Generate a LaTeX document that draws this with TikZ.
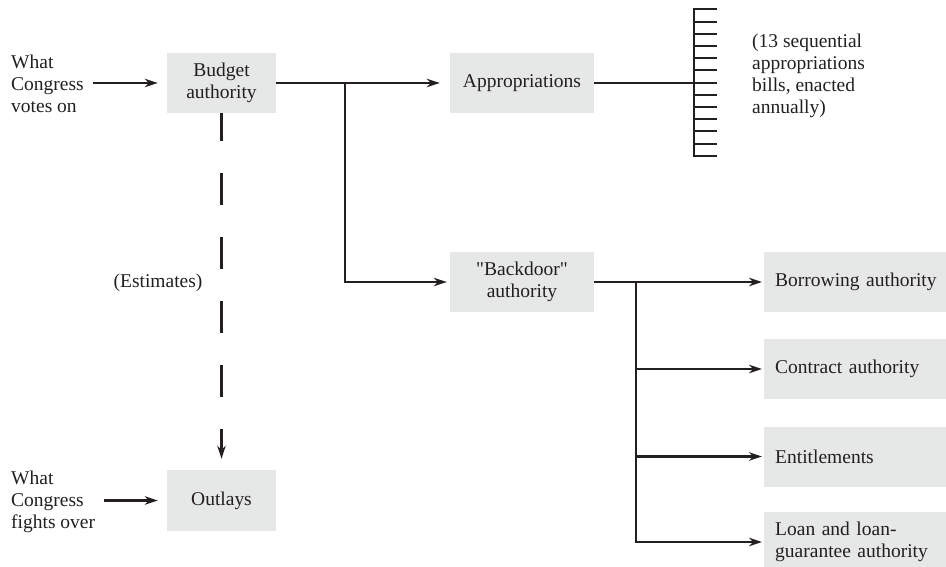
\documentclass[tikz,border=0pt]{standalone}
\usepackage{fontspec}
\setmainfont{Liberation Serif}[Ligatures=TeXOff]
\usetikzlibrary{arrows.meta}
\definecolor{boxfill}{RGB}{230,231,231}
\definecolor{ink}{RGB}{35,31,32}
\tikzset{
  txt/.style={font=\fontsize{19.5}{22}\selectfont, text=ink, inner sep=0pt},
  box/.style={txt, fill=boxfill, align=center, minimum height=60pt},
  sidebox/.style={txt, fill=boxfill, align=left, anchor=west, minimum width=200pt,
    minimum height=60pt, text width=179pt, inner xsep=11pt},
  link/.style={draw=ink, line width=2.1pt},
  arr/.style={link, -{Stealth[length=13pt,width=8.5pt]}},
  dashlink/.style={arr, dash pattern=on 32pt off 32pt, dash phase=4pt}
}
\begin{document}
\begin{tikzpicture}[x=1pt,y=-1pt]
\useasboundingbox (0,0) rectangle (946,567);

% main boxes
\node[box, minimum width=109pt] (budget) at (221.5,83) {Budget\\authority};
\node[box, minimum width=109pt, minimum height=61pt] (outlays) at (221.5,500.5) {Outlays};
\node[box, minimum width=144pt] (approp) at (522,83) {Appropriations};
\node[box, minimum width=144pt] (backdoor) at (522,282) {"Backdoor"\\authority};

% forms of backdoor spending
\node[sidebox] (borrow) at (764,282) {Borrowing authority};
\node[sidebox] (contract) at (764,369) {Contract authority};
\node[sidebox] (entitle) at (764,456.5) {Entitlements};
\node[sidebox] (loan) at (764,542) {Loan and loan-\\guarantee authority};

% side labels
\node[txt, align=left, anchor=west] (votes) at (11,84) {What\\Congress\\votes on};
\node[txt, align=left, anchor=west] (fights) at (11,502) {What\\Congress\\fights over};
\node[txt] (est) at (158,283) {(Estimates)};
\node[txt, align=left, anchor=west] (bills) at (752,76) {(13 sequential\\appropriations\\bills, enacted\\annually)};

% what Congress decides
\draw[arr, shorten <=9pt, shorten >=9pt] (votes.east |- budget.west) -- (budget.west);
\draw[arr, shorten <=9pt, shorten >=9pt] (fights.east |- outlays.west) -- (outlays.west);

% estimates link
\draw[dashlink, shorten >=11pt] (budget.south) -- (outlays.north);

% budget authority splits
\coordinate (j1) at (345,83);
\draw[arr, shorten >=10pt] (budget.east) -- (approp.west);
\draw[arr, shorten >=3pt] (j1) |- (backdoor.west);

% the 13 appropriations bills
\coordinate (comb) at (694,83);
\draw[link] (approp.east) -- (comb);
\draw[draw=ink, line width=2.6pt] (694,8.5) -- (694,156.8);
\foreach \i in {0,...,12}
  \draw[draw=ink, line width=2pt] (693,{9.3+12.22*\i}) -- (717,{9.3+12.22*\i});

% backdoor authority splits
\coordinate (j2) at (636,282);
\draw[arr, shorten >=2pt] (backdoor.east) -- (borrow.west);
\draw[link, line width=2.6pt] (j2) -- (697,282);
\draw[arr, shorten >=2pt] (j2) |- (contract.west);
\draw[arr, shorten >=2pt] (j2) |- (entitle.west);
\draw[arr, shorten >=2pt] (j2) |- (loan.west);
\end{tikzpicture}
\end{document}
